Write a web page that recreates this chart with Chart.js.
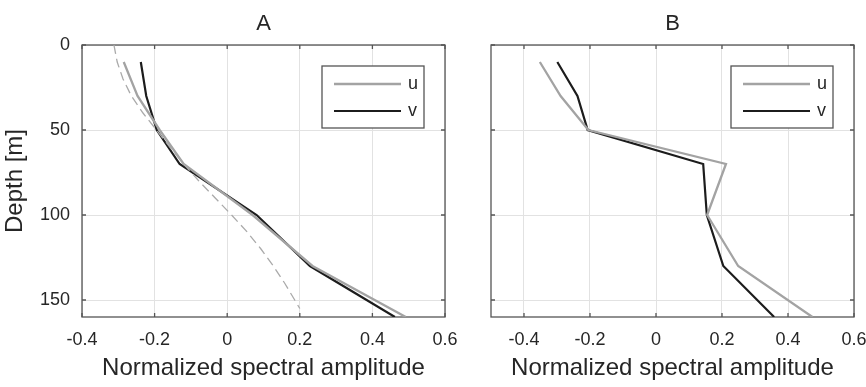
<!DOCTYPE html>
<html>
<head>
<meta charset="utf-8">
<script src="https://cdn.jsdelivr.net/npm/chart.js@4.4.1/dist/chart.umd.min.js"></script>
<style>
  html, body { margin: 0; padding: 0; background: #fff; }
  #wrap { position: relative; width: 866px; height: 387px; overflow: hidden; }
  .panel { position: absolute; top: 0; }
  #panelA { left: 0; }
  #panelB { left: 466px; }
</style>
</head>
<body>
<div id="wrap">
  <div class="panel" id="panelA"><canvas id="chartA" width="466" height="387"></canvas></div>
  <div class="panel" id="panelB"><canvas id="chartB" width="400" height="387"></canvas></div>
</div>
<script>
// depth of each profile point [m]
const depths = [10, 30, 50, 70, 100, 130, 160];
// panel A
const uA = [-0.285, -0.247, -0.186, -0.12, 0.07, 0.235, 0.492];
const vA = [-0.238, -0.223, -0.194, -0.131, 0.081, 0.228, 0.462];
// dashed reference curve (panel A only)
const refDepths = [0, 10, 20, 30, 40, 50, 60, 70, 80, 90, 100, 110, 120, 130, 140, 150, 155];
const refA = [-0.312, -0.303, -0.287, -0.264, -0.232, -0.195, -0.158, -0.12, -0.078, -0.033,
              0.012, 0.055, 0.093, 0.127, 0.158, 0.186, 0.2];
// panel B
const uB = [-0.352, -0.289, -0.205, 0.212, 0.155, 0.249, 0.474];
const vB = [-0.299, -0.238, -0.207, 0.143, 0.154, 0.204, 0.358];

const xTicks = [-0.4, -0.2, 0, 0.2, 0.4, 0.6];
const depthTicks = [0, 50, 100, 150];

const FONT = '"Liberation Sans", Arial, Helvetica, sans-serif';
const TXT = '#262626';
const GRID = '#e2e2e2';
const AXIS = '#555555';
Chart.defaults.font.family = FONT;
Chart.defaults.color = TXT;

const pts = (xs, ds) => xs.map((x, i) => ({ x: x, y: ds[i] }));

// box round the plot area plus inward tick marks, like matlab axes
const boxPlugin = {
  id: 'boxTicks',
  beforeDatasetsDraw(chart) {
    const { ctx, chartArea: a, scales: { x, y } } = chart;
    ctx.save();
    ctx.strokeStyle = AXIS;
    ctx.lineWidth = 1.3;
    ctx.beginPath();
    x.ticks.forEach(t => {
      const px = x.getPixelForValue(t.value);
      ctx.moveTo(px, a.top); ctx.lineTo(px, a.top + 4);
      ctx.moveTo(px, a.bottom); ctx.lineTo(px, a.bottom - 4);
    });
    y.ticks.forEach(t => {
      const py = y.getPixelForValue(t.value);
      ctx.moveTo(a.left, py); ctx.lineTo(a.left + 4, py);
      ctx.moveTo(a.right, py); ctx.lineTo(a.right - 4, py);
    });
    ctx.stroke();
    ctx.strokeRect(a.left, a.top, a.width, a.height);
    ctx.restore();
  }
};

// boxed legend in the upper right corner of the plot area
const legendPlugin = {
  id: 'boxLegend',
  afterDatasetsDraw(chart) {
    const { ctx, chartArea: a } = chart;
    const items = chart.data.datasets.filter(d => d.label);
    const w = 102, h = 62;
    const left = a.right - 21 - w, top = a.top + 21;
    ctx.save();
    ctx.fillStyle = '#fff';
    ctx.fillRect(left, top, w, h);
    ctx.strokeStyle = AXIS;
    ctx.lineWidth = 1.3;
    ctx.strokeRect(left, top, w, h);
    items.forEach((d, i) => {
      const yy = top + 18 + i * 27;
      ctx.strokeStyle = d.borderColor;
      ctx.lineWidth = d.borderWidth;
      ctx.beginPath();
      ctx.moveTo(left + 12, yy);
      ctx.lineTo(left + 79, yy);
      ctx.stroke();
      ctx.fillStyle = TXT;
      ctx.font = '18px ' + FONT;
      ctx.textBaseline = 'middle';
      ctx.fillText(d.label, left + 86, yy);
    });
    ctx.restore();
  }
};

function makeChart(id, title, xMin, u, v, ref, yWidth, rightPad, showY) {
  const datasets = [];
  if (ref) {
    datasets.push({
      data: pts(ref, refDepths), showLine: true, pointRadius: 0,
      borderColor: '#aaaaaa', borderWidth: 1.3, borderDash: [9, 5]
    });
  }
  datasets.push({
    label: 'u', data: pts(u, depths), showLine: true, pointRadius: 0,
    borderColor: '#a3a3a3', borderWidth: 2.3
  });
  datasets.push({
    label: 'v', data: pts(v, depths), showLine: true, pointRadius: 0,
    borderColor: '#1c1c1c', borderWidth: 2.2
  });

  return new Chart(document.getElementById(id), {
    type: 'scatter',
    data: { datasets: datasets },
    options: {
      responsive: false,
      animation: false,
      layout: { padding: { left: 0, right: rightPad, top: 0, bottom: 0 } },
      plugins: {
        legend: { display: false },
        tooltip: { enabled: false },
        title: {
          display: true, text: title, color: TXT, fullSize: false,
          font: { size: 22, weight: 'normal' },
          padding: { top: 10.5, bottom: 8.1 }
        }
      },
      scales: {
        x: {
          type: 'linear', min: xMin, max: 0.6,
          afterBuildTicks: s => { s.ticks = xTicks.map(t => ({ value: t })); },
          afterFit: s => { s.height = 70; s.paddingLeft = 0; s.paddingRight = 0; },
          grid: { color: GRID, lineWidth: 1, drawTicks: false },
          border: { display: false },
          ticks: { padding: 12, color: TXT, font: { size: 18 }, maxRotation: 0,
                   callback: val => String(Math.round(val * 10) / 10) },
          title: { display: true, text: 'Normalized spectral amplitude', color: TXT,
                   font: { size: 24 }, padding: { top: 0, bottom: 4 } }
        },
        y: {
          type: 'linear', reverse: true, min: 0, max: 160,
          afterBuildTicks: s => { s.ticks = depthTicks.map(t => ({ value: t })); },
          afterFit: s => { s.width = yWidth; },
          grid: { color: GRID, lineWidth: 1, drawTicks: false },
          border: { display: false },
          ticks: { display: showY, padding: 12, color: TXT, font: { size: 18 },
                   callback: val => String(val) },
          title: { display: showY, text: 'Depth [m]', color: TXT,
                   font: { size: 24 }, padding: { top: 1, bottom: 0 } }
        }
      }
    },
    plugins: [boxPlugin, legendPlugin]
  });
}

makeChart('chartA', 'A', -0.4, uA, vA, refA, 82, 21, true);
makeChart('chartB', 'B', -0.5, uB, vB, null, 25, 12, false);
</script>
</body>
</html>
